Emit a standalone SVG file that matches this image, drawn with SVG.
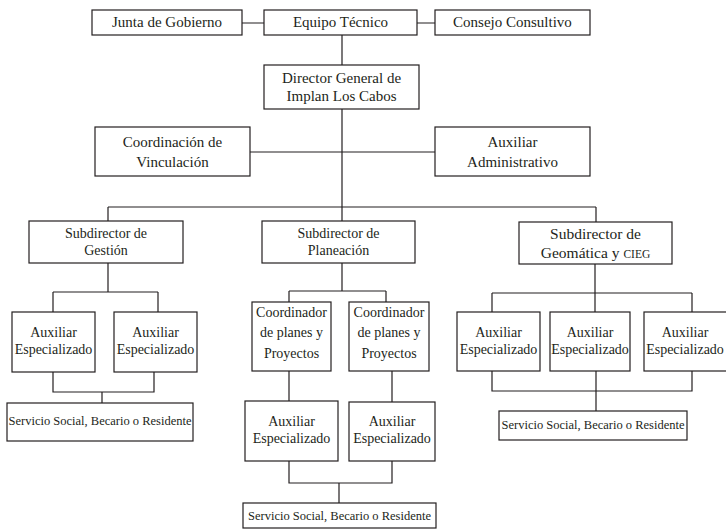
<svg xmlns="http://www.w3.org/2000/svg" width="726" height="529" viewBox="0 0 726 529">
<style>
rect{fill:#fff;stroke:#231f20;stroke-width:1.2}
text{font-family:'Liberation Serif','Times New Roman','DejaVu Serif',serif;fill:#231f20;text-anchor:middle}
.l{font-size:15px}
.m{font-size:14px}
.s{font-size:12.5px}
.g{font-size:15.5px}
.sc{font-size:11.5px}
#connectors path{fill:none;stroke:#231f20;stroke-width:1.2}
</style>
<rect x="0" y="0" width="726" height="529" style="stroke:none"/>
<g id="connectors">
<path d="M242 23H264M417 23H435"/>
<path d="M342 35V65"/>
<path d="M342 109V221"/>
<path d="M250 152H435"/>
<path d="M108 207H596M108 207V221M596 207V222"/>
<path d="M108 263V292M53 292H158M53 292V312M158 292V312"/>
<path d="M53 372V392H154V372M102 392V403"/>
<path d="M342 263V291M289 291H386M289 291V302M386 291V302"/>
<path d="M289 371V401M392 371V402"/>
<path d="M289 461V483H392V461M339 483V503"/>
<path d="M595 264V312M492 293H692M492 293V312M692 293V312"/>
<path d="M492 371V391H692V371M596 371V411"/>
</g>
<g id="junta"><rect x="92" y="10" width="150" height="25"/><text class="l" x="167" y="27">Junta de Gobierno</text></g>
<g id="equipo"><rect x="264" y="10" width="153" height="25"/><text class="l" x="340.5" y="27">Equipo Técnico</text></g>
<g id="consejo"><rect x="435" y="10" width="155" height="25"/><text class="l" x="512.5" y="27">Consejo Consultivo</text></g>
<g id="director"><rect x="264" y="65" width="155" height="44"/><text class="l" x="341.5" y="83">Director General de</text><text class="l" x="341.5" y="101">Implan Los Cabos</text></g>
<g id="coordinacion"><rect x="95" y="127" width="155" height="49"/><text class="l" x="172.5" y="147">Coordinación de</text><text class="l" x="172.5" y="167">Vinculación</text></g>
<g id="auxadmin"><rect x="435" y="127" width="155" height="49"/><text class="l" x="512.5" y="147">Auxiliar</text><text class="l" x="512.5" y="167">Administrativo</text></g>
<g id="sub-gestion"><rect x="29" y="221" width="154" height="42"/><text class="m" x="106" y="238">Subdirector de</text><text class="m" x="106" y="255">Gestión</text></g>
<g id="sub-planeacion"><rect x="262" y="221" width="153" height="42"/><text class="m" x="338.5" y="238">Subdirector de</text><text class="m" x="338.5" y="255">Planeación</text></g>
<g id="sub-geomatica"><rect x="519" y="222" width="153" height="42"/><text class="g" x="595.5" y="239">Subdirector de</text><text class="g" x="595.5" y="258">Geomática y <tspan class="sc">CIEG</tspan></text></g>
<g id="aux-g1"><rect x="12" y="312" width="83" height="60"/><text class="m" x="53.5" y="337">Auxiliar</text><text class="m" x="53.5" y="354">Especializado</text></g>
<g id="aux-g2"><rect x="114" y="312" width="83" height="60"/><text class="m" x="155.5" y="337">Auxiliar</text><text class="m" x="155.5" y="354">Especializado</text></g>
<g id="serv-g"><rect x="7" y="403" width="186" height="38"/><text class="s" x="100" y="425">Servicio Social, Becario o Residente</text></g>
<g id="coord-p1"><rect x="252" y="302" width="79" height="69"/><text class="m" x="291.5" y="317">Coordinador</text><text class="m" x="291.5" y="337">de planes y</text><text class="m" x="291.5" y="358">Proyectos</text></g>
<g id="coord-p2"><rect x="349" y="302" width="80" height="69"/><text class="m" x="389" y="317">Coordinador</text><text class="m" x="389" y="337">de planes y</text><text class="m" x="389" y="358">Proyectos</text></g>
<g id="aux-p1"><rect x="245" y="401" width="93" height="60"/><text class="m" x="291.5" y="426">Auxiliar</text><text class="m" x="291.5" y="443">Especializado</text></g>
<g id="aux-p2"><rect x="349" y="402" width="86" height="59"/><text class="m" x="392" y="426">Auxiliar</text><text class="m" x="392" y="443">Especializado</text></g>
<g id="serv-p"><rect x="243" y="503" width="193" height="25"/><text class="s" x="339.5" y="520">Servicio Social, Becario o Residente</text></g>
<g id="aux-c1"><rect x="457" y="312" width="83" height="59"/><text class="m" x="498.5" y="337">Auxiliar</text><text class="m" x="498.5" y="354">Especializado</text></g>
<g id="aux-c2"><rect x="550" y="312" width="80" height="59"/><text class="m" x="590" y="337">Auxiliar</text><text class="m" x="590" y="354">Especializado</text></g>
<g id="aux-c3"><rect x="644" y="312" width="83" height="59"/><text class="m" x="685" y="337">Auxiliar</text><text class="m" x="685" y="354">Especializado</text></g>
<g id="serv-c"><rect x="499" y="411" width="188" height="29"/><text class="s" x="593" y="429">Servicio Social, Becario o Residente</text></g>
</svg>
